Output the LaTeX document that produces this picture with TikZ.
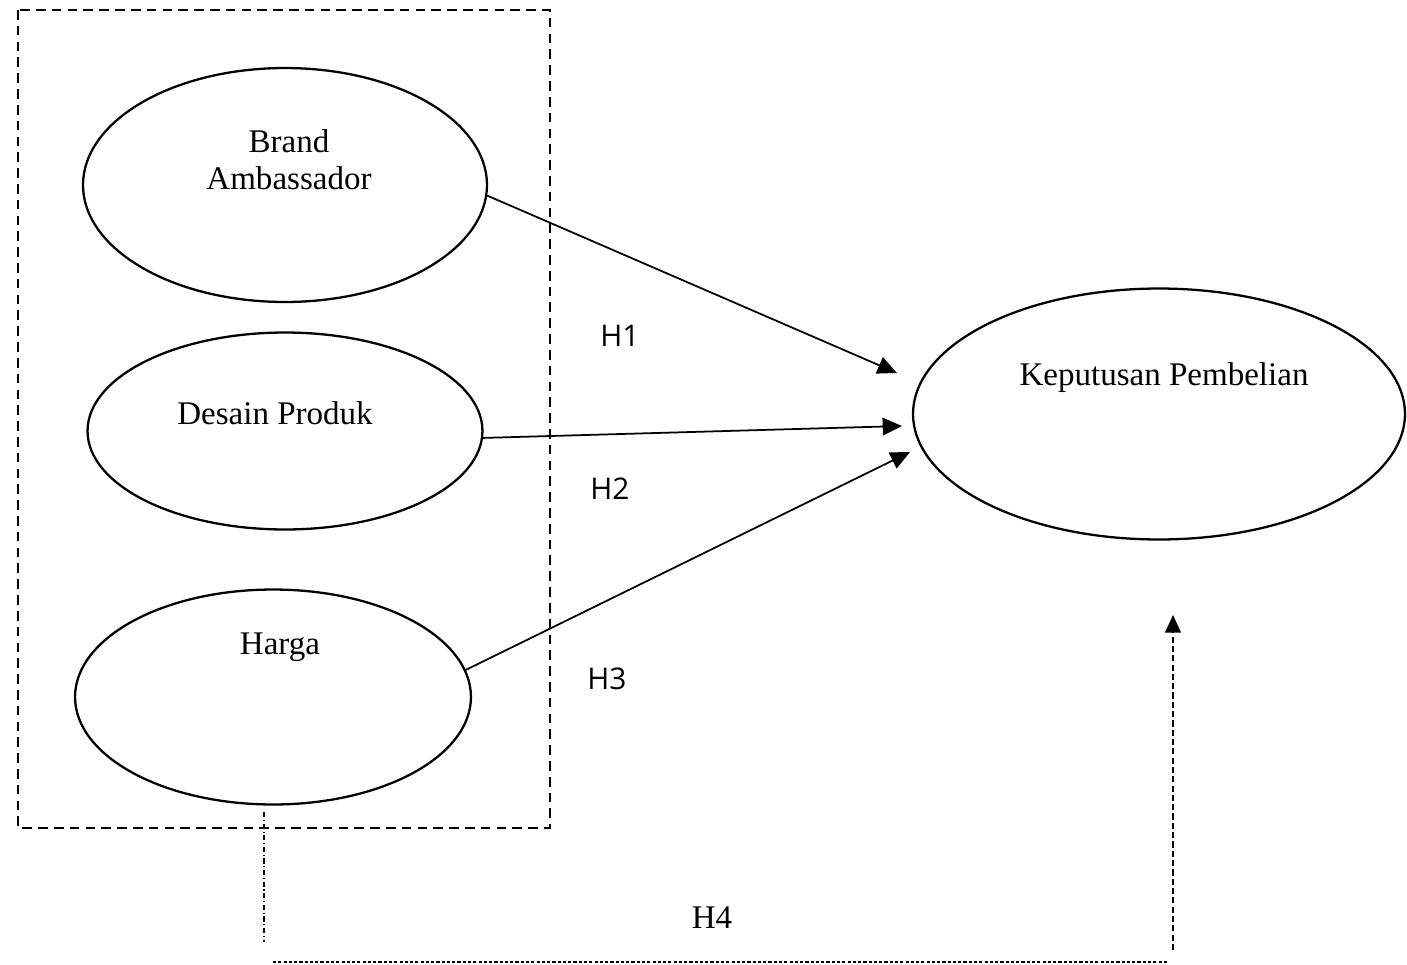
\documentclass[tikz,border=0pt]{standalone}
\usepackage{fontspec}
\setmainfont{Liberation Serif}
\newfontfamily\hfont{Open Sans}
\usetikzlibrary{shapes.geometric,arrows.meta,calc}
\tikzset{var/.style={ellipse, draw, line width=1.3pt, inner sep=0pt},
vtext/.style={font=\fontsize{18.8}{21}\selectfont, align=center},
hlabel/.style={font=\hfont\fontsize{17}{20}\selectfont},
path/.style={line width=1pt, -{Triangle[length=11pt,width=10pt]}}}

\begin{document}
\begin{tikzpicture}[x=0.02cm,y=-0.02cm]
        \useasboundingbox (0,0) rectangle (1407,964);
        % variabel
        \node[var, minimum width=8.08cm, minimum height=4.68cm] (ba) at (285, 185) {};
        \node[var, minimum width=7.9cm, minimum height=3.94cm] (dp) at (285, 431) {};
        \node[var, minimum width=7.92cm, minimum height=4.3cm] (hg) at (273, 697) {};
        \node[var, minimum width=9.84cm, minimum height=5.02cm] (kp) at (1159, 414) {};
        
        \node[vtext] (batext) at (289, 160) {Brand\\Ambassador};
        \node[vtext] (dptext) at (275, 413) {Desain Produk};
        \node[vtext] (hgtext) at (280, 647) {Harga};
        \node[vtext] (kptext) at (1164, 378) {Keputusan Pembelian};
        
        % kotak simultan
        \draw[line width=0.9pt, dash pattern=on 5.5pt off 3.5pt] (18, 10) rectangle (550, 828);
        
        % hipotesis parsial
        \coordinate (h1end) at (897, 373);
        \coordinate (h2end) at (902, 426);
        \coordinate (h3end) at (910, 452);
        \draw[path] (ba.-3) -- (h1end);
        \draw[path] (dp.-2) -- (h2end);
        \draw[path] (hg.8) -- (h3end);
        
        \node[hlabel] (h1) at (620, 336) {H1};
        \node[hlabel] (h2) at (610, 489) {H2};
        \node[hlabel] (h3) at (607, 679) {H3};
        \node[vtext] (h4) at (712, 918) {H4};
        
        % hipotesis simultan
        \coordinate (h4a) at (264, 812);
        \coordinate (h4b) at (264, 942);
        \coordinate (h4c) at (273, 962);
        \coordinate (h4d) at (1168, 962);
        \coordinate (h4e) at (1173, 950);
        \coordinate (h4f) at (1173, 615);
        \draw[line width=0.7pt, dash pattern=on 3pt off 1.5pt on 0.6pt off 1.5pt] (h4a) -- (h4b);
        \draw[line width=1.1pt, dash pattern=on 1.8pt off 1.2pt] (h4c) -- (h4d);
        \draw[line width=0.8pt, dash pattern=on 3.5pt off 1.8pt, -{Triangle[length=10pt,width=9pt]}] (h4e) -- (h4f);
    \end{tikzpicture}
\end{document}
